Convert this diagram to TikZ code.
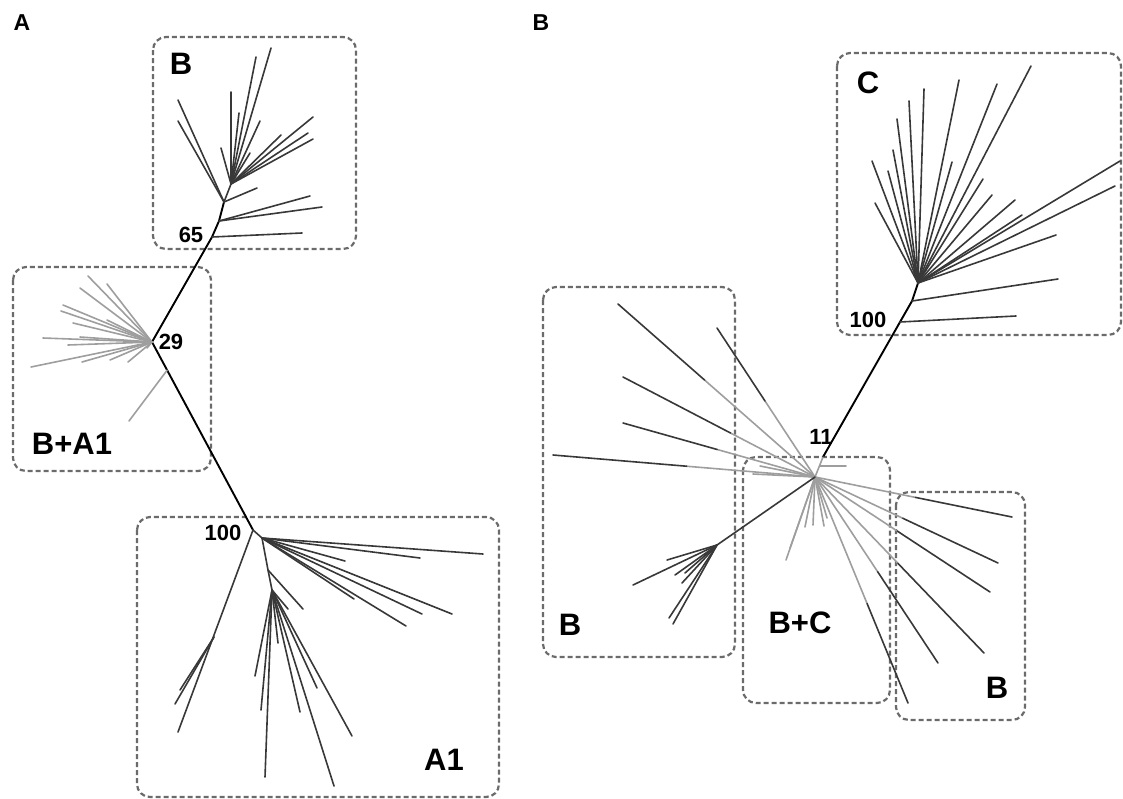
\documentclass[tikz,border=0pt]{standalone}
\usepackage{fontspec}
\setmainfont{Liberation Sans}
\usetikzlibrary{calc}
\begin{document}
\begin{tikzpicture}[x=1pt,y=-1pt,
  br/.style={line width=1.6pt,draw=black!78,line cap=round},
  lt/.style={line width=1.6pt,draw=black!38,line cap=round},
  spine/.style={line width=1.9pt,draw=black,line cap=round},
  grp/.style={draw=black!58,line width=2.2pt,dash pattern=on 5pt off 3pt,rounded corners=13pt},
  big/.style={font=\fontsize{31}{31}\selectfont\bfseries,inner sep=0pt},
  boot/.style={font=\fontsize{22}{22}\selectfont\bfseries,inner sep=0pt},
  panel/.style={font=\fontsize{23}{23}\selectfont\bfseries,inner sep=0pt}]
\useasboundingbox (0,0) rectangle (1123,798);

% ---------------- panel A ----------------
\node[panel] (pA) at (22,23) {A};

% group frames
\draw[grp] (153,37) rectangle (356,249);
\draw[grp] (13,267) rectangle (211,471);
\draw[grp] (137,517) rectangle (499,797);

% internal nodes
\coordinate (bB)   at (224,202);
\coordinate (sB)   at (231,184);
\coordinate (b1)   at (219,221);
\coordinate (a65)  at (212,237);
\coordinate (a29)  at (152,342);
\coordinate (a100) at (253,530);
\coordinate (aR)   at (262,538);
\coordinate (aL)   at (214,637);
\coordinate (aD)   at (268,570);
\coordinate (aE)   at (272,590);

% backbone
\draw[spine] (bB) -- (b1) -- (a65) -- (a29) -- (a100);

% clade B
\draw[br] (a65) -- (302,233);
\foreach \t in {(310,196),(322,207)} \draw[br] (b1) -- \t;
\foreach \t in {(178,100),(178,121),(257,188)} \draw[br] (bB) -- \t;
\draw[br] (bB) -- (sB);
\foreach \t in {(221,148),(231,92),(239,113),(256,57),(271,48),(260,121),(250,153),
                (313,117),(308,133),(313,139),(281,135)}
  \draw[br] (sB) -- \t;

% clade B+A1
\foreach \t in {(88,276),(107,284),(80,288),(61,311),(63,305),(43,338),(31,367),
                (82,362),(110,360),(128,362),(73,323),(107,320),(68,345),(80,337),(147,348)}
  \draw[lt] (a29) -- \t;
\coordinate (a29b) at ($(a29)!0.15!(a100)$);
\draw[lt] (a29b) -- (129,421);

% clade A1
\draw[br] (a100) -- (aR);
\foreach \t in {(483,554),(420,558),(345,561),(452,614),(422,614),(406,626),(354,599)}
  \draw[br] (aR) -- \t;
\draw[br] (a100) -- (178,732);
\foreach \t in {(175,704),(180,690)} \draw[br] (aL) -- \t;
\draw[br] (aR) -- (aD) -- (aE);
\draw[br] (aD) -- (303,609);
\foreach \t in {(265,777),(334,786),(352,736),(317,688),(300,712),(255,676),(261,710),
                (278,643),(288,609)}
  \draw[br] (aE) -- \t;

% labels
\node[big]  (lB)   at (181,64)  {B};
\node[boot] (l65)  at (191,235) {65};
\node[boot] (l29)  at (171,342) {29};
\node[big]  (lBA)  at (72,444)  {B+A1};
\node[boot] (l100) at (223,533) {100};
\node[big]  (lA1)  at (444,760) {A1};

% ---------------- panel B ----------------
\node[panel] (pB) at (541,23) {B};

\draw[grp] (837,53) rectangle (1121,335);
\draw[grp] (543,287) rectangle (735,657);
\draw[grp] (743,457) rectangle (890,703);
\draw[grp] (896,492) rectangle (1025,720);

\coordinate (b11) at (823,457);
\coordinate (c1)  at (900,322);
\coordinate (c2)  at (912,301);
\coordinate (cC)  at (918,283);
\coordinate (G)   at (815,477);
\coordinate (H)   at (717,545);

% backbone to clade C
\draw[spine] (b11) -- (c1) -- (c2) -- (cC);
\draw[br] (c1) -- (1016,316);
\draw[br] (c2) -- (1058,279);
\foreach \t in {(1056,235),(1115,186),(1120,161),(1022,215),(1015,200),(992,195),(983,179),
                (952,162),(1031,66),(997,84),(959,80),(872,161),(875,203),(888,171),
                (893,150),(897,119),(909,101),(924,89)}
  \draw[br] (cC) -- \t;

% central node and clade B+C
\draw[lt] (b11) -- (G);
\draw[lt] (820,466) -- (846,466);
\foreach \t in {(753,474),(760,466),(786,560),(790,548),(805,527),(813,525),(824,526),(827,518)}
  \draw[lt] (G) -- \t;

% long branches: grey near the centre, dark at the tips
\foreach \x/\y/\f in {618/304/0.56,717/328/0.51,623/377/0.44,623/423/0.51,553/455/0.49,
                      1012/517/0.51,998/563/0.48,990/592/0.47,984/653/0.49,
                      938/663/0.51,908/703/0.56}
  {\coordinate (brk) at ($(G)!\f!(\x,\y)$);
   \draw[lt] (G) -- (brk);
   \draw[br] (brk) -- (\x,\y);}

% lower-left sub-clade B
\draw[br] (G) -- (H);
\foreach \t in {(633,585),(667,560),(675,575),(682,583),(685,573),(669,618),(673,624)}
  \draw[br] (H) -- \t;

% labels
\node[big]  (lC)    at (868,83)  {C};
\node[boot] (lc100) at (868,320) {100};
\node[boot] (l11)   at (821,437) {11};
\node[big]  (lBl)   at (570,625) {B};
\node[big]  (lBC)   at (800,623) {B+C};
\node[big]  (lBr)   at (997,688) {B};
\end{tikzpicture}
\end{document}
